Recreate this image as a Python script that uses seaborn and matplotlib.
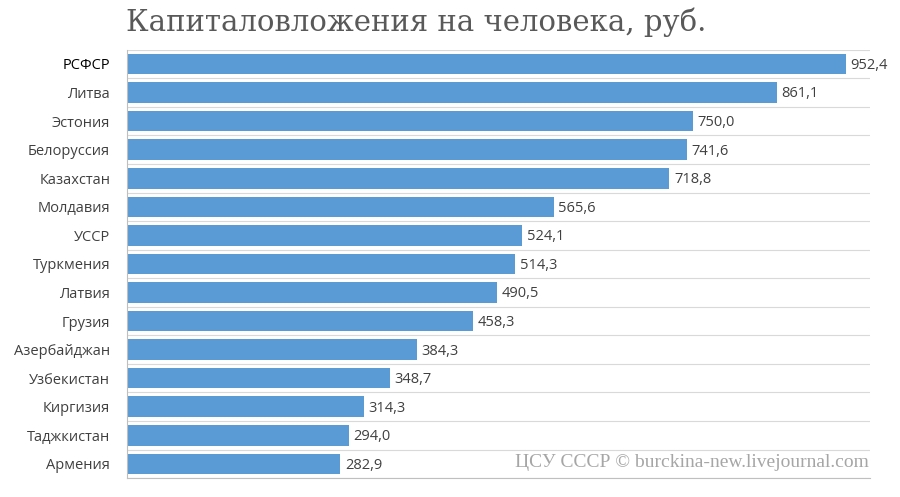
import matplotlib
matplotlib.use("Agg")
import matplotlib.pyplot as plt
import seaborn as sns
import pandas as pd

regions = ["РСФСР", "Литва", "Эстония", "Белоруссия", "Казахстан", "Молдавия", "УССР",
           "Туркмения", "Латвия", "Грузия", "Азербайджан", "Узбекистан", "Киргизия",
           "Таджкистан", "Армения"]
values = [952.4, 861.1, 750.0, 741.6, 718.8, 565.6, 524.1, 514.3, 490.5, 458.3,
          384.3, 348.7, 314.3, 294.0, 282.9]

df = pd.DataFrame({"region": regions, "value": values})

plt.rcParams["font.family"] = "Open Sans"
fig = plt.figure(figsize=(9, 4.97), dpi=100)
ax = fig.add_axes([0.141, 0.038, 0.826, 0.862])

sns.barplot(data=df, x="value", y="region", color="#5b9bd5", width=0.72, ax=ax,
            saturation=1, zorder=2)

ax.set_xlim(0, 985)
ax.set_ylim(len(regions) - 0.5, -0.5)
for y in range(len(regions) + 1):
    ax.axhline(y - 0.5, color="#d9d9d9", lw=0.8, zorder=0)

for i, v in enumerate(values):
    ax.text(v + 6, i + 0.05, f"{v:.1f}".replace(".", ","), va="center", ha="left",
            fontsize=10.5, color="#404040")

ax.set_xlabel("")
ax.set_ylabel("")
ax.set_xticks([])
ax.tick_params(axis="y", length=0, labelsize=10.5, colors="#404040", pad=12)
ax.get_yticklabels()[0].set_color("black")
for s in ["top", "right"]:
    ax.spines[s].set_visible(False)
ax.spines["bottom"].set_color("#bfbfbf")
ax.spines["left"].set_color("#bfbfbf")

fig.text(0.14, 0.955, "Капиталовложения на человека, руб.", fontsize=21,
         family="DejaVu Serif", color="#595959", ha="left", va="center")
fig.text(0.965, 0.07, "ЦСУ СССР © burckina-new.livejournal.com", fontsize=14,
         family="Liberation Serif", color="#a6a6a6", ha="right", va="center")

fig.savefig("out.png", dpi=100)
